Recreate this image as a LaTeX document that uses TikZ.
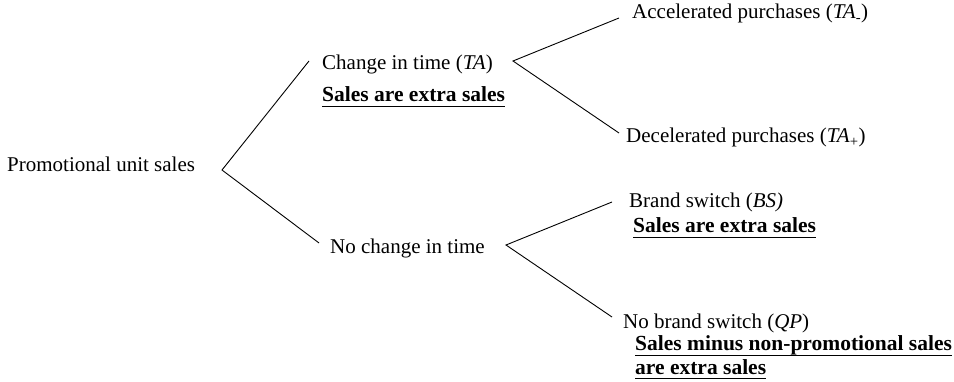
\documentclass[tikz,border=0pt]{standalone}
\usepackage{fontspec}
\setmainfont{Liberation Serif}
\begin{document}
\begin{tikzpicture}[x=1pt,y=-1pt,
  lbl/.style={anchor=base west,inner sep=0pt,font=\fontsize{21}{22.5}\selectfont},
  extra/.style={lbl,font=\fontsize{21.5}{23}\selectfont\bfseries},
  underl/.style={line width=1.8pt},
  branch/.style={line width=0.9pt}]
\useasboundingbox (0,0) rectangle (954,382);

% labels
\node[lbl] (root) at (7,172) {Promotional unit sales};
\node[lbl] (ta) at (322,70) {Change in time (\textit{TA})};
\node[extra] (taX) at (322,102) {Sales are extra sales};
\node[lbl] (acc) at (632,19) {Accelerated purchases (\textit{TA}\textsubscript{-})};
\node[lbl] (dec) at (626,143) {Decelerated purchases (\textit{TA}\textsubscript{+})};
\node[lbl] (nc) at (330,254) {No change in time};
\node[lbl] (bs) at (629,208) {Brand switch (\textit{BS)}};
\node[extra] (bsX) at (633,233) {Sales are extra sales};
\node[lbl] (qp) at (623,329) {No brand switch (\textit{QP})};
\node[extra] (qpX) at (635,351) {Sales minus non-promotional sales};
\node[extra] (qpY) at (635,374) {are extra sales};

% underlines of the bold statements
\foreach \n in {taX,bsX,qpX,qpY}
  \draw[underl] ([yshift=-4.5pt]\n.base west) -- ([yshift=-4.5pt]\n.base east);

% branch points and line ends
\coordinate (rootV) at (222,170);
\coordinate (taEnd) at (309,61);
\coordinate (ncEnd) at (319,243);
\coordinate (taV) at (513,61);
\coordinate (accEnd) at (619,18);
\coordinate (decEnd) at (619,133);
\coordinate (ncV) at (506,245);
\coordinate (bsEnd) at (612,202);
\coordinate (qpEnd) at (612,317);

\draw[branch] (taEnd) -- (rootV) -- (ncEnd);
\draw[branch] (accEnd) -- (taV) -- (decEnd);
\draw[branch] (bsEnd) -- (ncV) -- (qpEnd);
\end{tikzpicture}
\end{document}
